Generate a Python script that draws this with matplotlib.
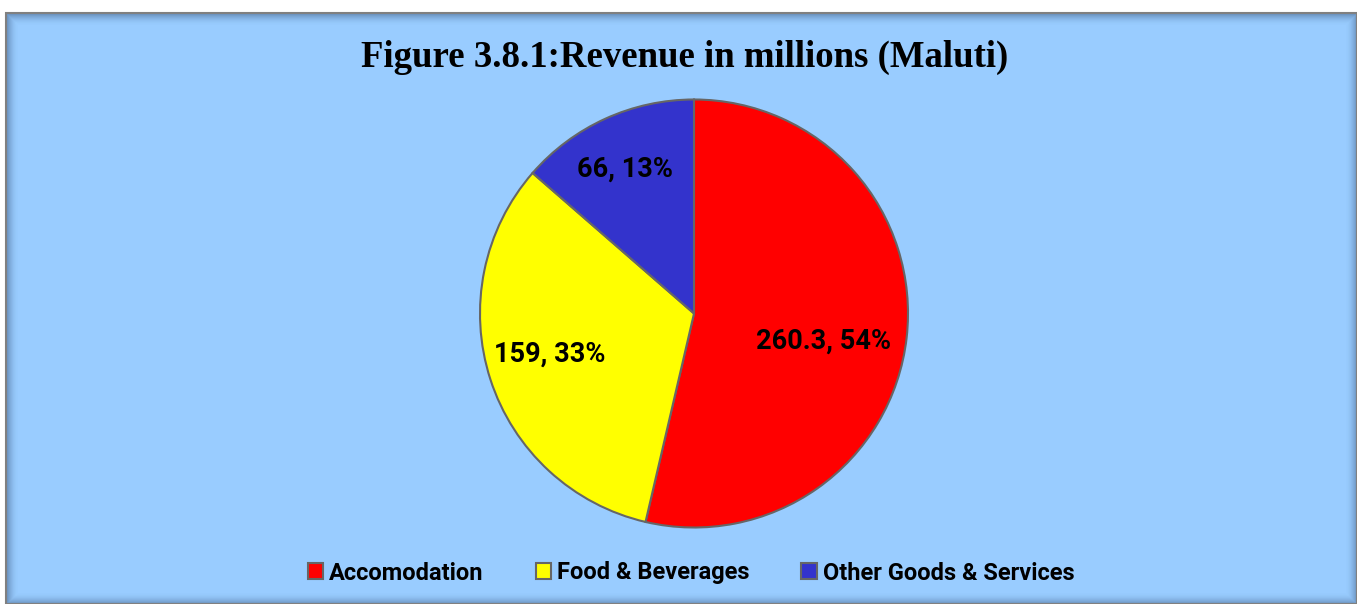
import numpy as np
import matplotlib.pyplot as plt
from matplotlib.patches import Rectangle

categories = ["Accomodation", "Food & Beverages", "Other Goods & Services"]
values = [260.3, 159, 66]
pct_labels = ["54%", "33%", "13%"]
value_labels = ["260.3", "159", "66"]
colors = ["#FF0000", "#FFFF00", "#3333CC"]
title = "Figure 3.8.1:Revenue in millions (Maluti)"

W, H = 1357, 604
fig = plt.figure(figsize=(W / 100, H / 100), dpi=100, facecolor="white")

x0, y0 = 6, 13
bx, by = x0 / W, 0
bw, bh = (W - x0) / W, (H - y0) / H
fig.patches.append(Rectangle((bx, by), bw, bh, transform=fig.transFigure,
                             facecolor="#99CCFF", edgecolor="none", zorder=0))
for i in range(12):
    a = 0.4 * (1 - i / 12) ** 2
    fig.patches.append(Rectangle(((x0 + i) / W, (0 + i) / H),
                                 (W - x0 - 2 * i) / W, (H - y0 - 2 * i) / H,
                                 transform=fig.transFigure, facecolor="none",
                                 edgecolor=(0.2, 0.3, 0.45, a), linewidth=1.0, zorder=1))
fig.patches.append(Rectangle((bx, by), bw, bh, transform=fig.transFigure,
                             facecolor="none", edgecolor="#808080", linewidth=1.5, zorder=2))

cx, cy, r = 694, 313.5, 214
ax = fig.add_axes([(cx - r) / W, (H - cy - r) / H, 2 * r / W, 2 * r / H])
ax.set_zorder(3)
wedges, _ = ax.pie(values, colors=colors, startangle=90, counterclock=False,
                   wedgeprops=dict(edgecolor="#666666", linewidth=1.5))
ax.set_aspect("equal")
ax.set_xlim(-1, 1)
ax.set_ylim(-1, 1)

label_font = dict(family="Roboto", weight="bold")
label_r = [0.62, 0.70, 0.75]
label_shift = [-5.5, -2.0, 1.2]
for w, vl, pl, lr, sh in zip(wedges, value_labels, pct_labels, label_r, label_shift):
    ang = np.deg2rad((w.theta1 + w.theta2) / 2 + sh)
    ax.text(lr * np.cos(ang), lr * np.sin(ang), f"{vl}, {pl}", ha="center", va="center",
            fontsize=19.5, color="black", **label_font)

fig.text(685 / W, 1 - 57 / H, title, ha="center", va="center",
         fontsize=26.5, fontweight="bold", family="Liberation Serif", color="black", zorder=5)

leg = fig.legend(wedges, categories, loc="center", bbox_to_anchor=(691 / W, 1 - 573 / H),
                 ncol=3, frameon=False, prop=dict(size=17, **label_font),
                 handlelength=0.65, handleheight=0.65, handletextpad=0.25, columnspacing=2.2)
for h in leg.legend_handles:
    h.set_edgecolor("#666666")
    h.set_linewidth(1.5)

fig.savefig("out.png", dpi=100, facecolor="white")
